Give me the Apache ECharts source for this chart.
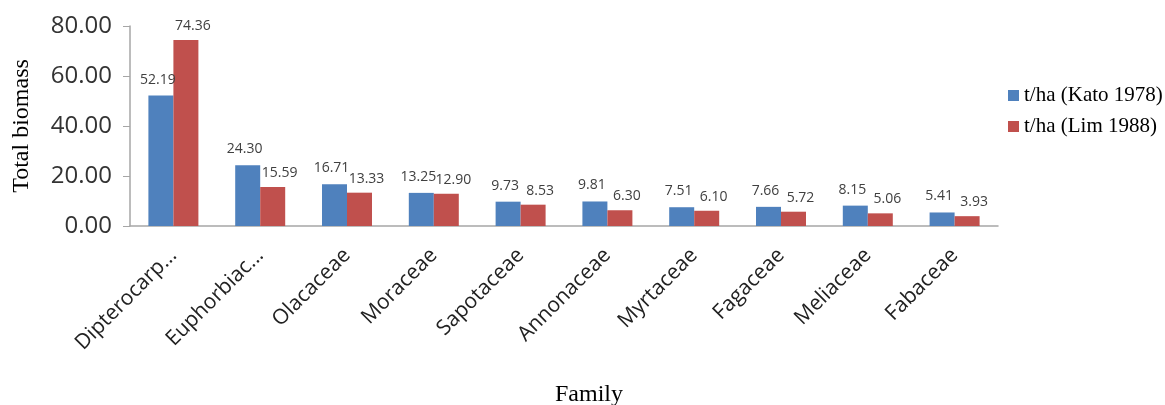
<!DOCTYPE html>
<html><head><meta charset="utf-8">
<script src="https://cdn.jsdelivr.net/npm/echarts@6/dist/echarts.min.js"></script>
<style>html,body{margin:0;padding:0;background:#fff}#c{width:1165px;height:405px}</style>
</head><body><div id="c"></div>
<script>
const categories = ['Dipterocarp...', 'Euphorbiac...', 'Olacaceae', 'Moraceae', 'Sapotaceae', 'Annonaceae', 'Myrtaceae', 'Fagaceae', 'Meliaceae', 'Fabaceae'];
const kato1978 = [52.19, 24.30, 16.71, 13.25, 9.73, 9.81, 7.51, 7.66, 8.15, 5.41];
const lim1988 = [74.36, 15.59, 13.33, 12.90, 8.53, 6.30, 6.10, 5.72, 5.06, 3.93];
const yTicks = [0, 20, 40, 60, 80];

const chart = echarts.init(document.getElementById('c'));
const labelBase = {show: true, position: 'top', distance: 7, color: '#404040', fontFamily: 'Open Sans', fontSize: 14, formatter: p => p.value.toFixed(2)};
chart.setOption({
  animation: false,
  grid: {left: 130, right: 167, top: 26, bottom: 179, containLabel: false, outerBoundsMode: 'none'},
  legend: {
    orient: 'vertical', left: 1003, top: 80, itemWidth: 11, itemHeight: 11, itemGap: 10,
    icon: 'rect',
    textStyle: {fontFamily: 'Liberation Serif', fontSize: 21, color: '#000'}
  },
  xAxis: {
    type: 'category', data: categories,
    name: 'Family', nameLocation: 'middle', nameGap: 157,
    nameTextStyle: {fontFamily: 'Liberation Serif', fontSize: 24, color: '#000', padding: [0, 0, 0, 50]},
    axisLine: {lineStyle: {color: '#a6a6a6', width: 1.5}},
    axisTick: {show: false},
    axisLabel: {rotate: 45, fontFamily: 'Open Sans', fontSize: 21, color: '#222', margin: 26}
  },
  yAxis: {
    type: 'value', min: yTicks[0], max: yTicks[yTicks.length - 1], interval: 20,
    name: 'Total biomass', nameLocation: 'middle', nameGap: 96,
    nameTextStyle: {fontFamily: 'Liberation Serif', fontSize: 24, color: '#000'},
    axisLine: {show: true, lineStyle: {color: '#a6a6a6', width: 1.5}},
    axisTick: {show: true, length: 7, lineStyle: {color: '#a6a6a6'}},
    splitLine: {show: false},
    axisLabel: {fontFamily: 'Open Sans', fontSize: 24, color: '#333', margin: 18, formatter: v => v.toFixed(2)}
  },
  series: [
    {name: 't/ha (Kato 1978)', type: 'bar', data: kato1978, barWidth: 25, barGap: '0%', itemStyle: {color: '#4F81BD'}, label: Object.assign({}, labelBase, {offset: [-3, -2]})},
    {name: 't/ha (Lim 1988)', type: 'bar', data: lim1988, barWidth: 25, barGap: '0%', itemStyle: {color: '#C0504D'}, label: Object.assign({}, labelBase, {offset: [7, 0]})}
  ]
});
</script></body></html>
